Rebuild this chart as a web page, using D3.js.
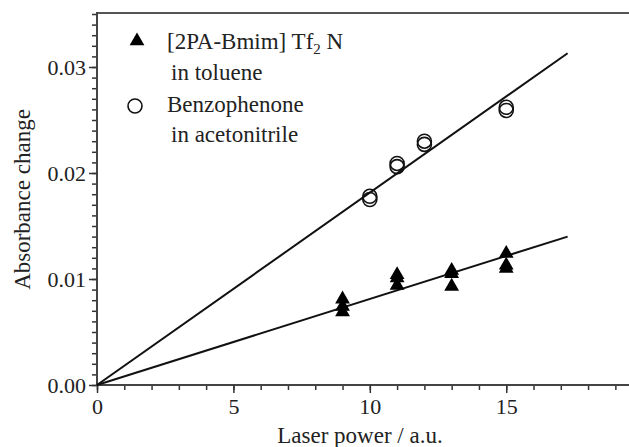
<!DOCTYPE html>
<html>
<head>
<meta charset="utf-8">
<script src="https://cdn.jsdelivr.net/npm/d3@7"></script>
<style>
  body { margin: 0; background: #fff; }
  svg text { font-family: "Times New Roman", "Liberation Serif", "DejaVu Serif", serif !important; fill: #222; }
</style>
</head>
<body>
<div id="chart"></div>
<script>
// data
var triX = [9, 9, 9, 11, 11, 11, 13, 13, 13, 15, 15, 15];
var triY = [0.0081, 0.0074, 0.0069, 0.0104, 0.0101, 0.0094, 0.0108, 0.0105, 0.0093, 0.0124, 0.0113, 0.0110];
var circX = [10, 10, 11, 11, 12, 12, 15, 15];
var circY = [0.0178, 0.0175, 0.0209, 0.0206, 0.0230, 0.0227, 0.0262, 0.0259];
var fitX = [0, 17.25];
var fitTri = [0, 0.0140];
var fitCirc = [0, 0.0313];
var xTicks = [0, 5, 10, 15];
var yTicks = [0, 0.01, 0.02, 0.03];

var width = 629, height = 447,
    margin = {top: 14, right: 0, bottom: 62, left: 97};

var x = d3.scaleLinear().domain([0, 19.5]).range([margin.left, width - margin.right]);
var y = d3.scaleLinear().domain([0, 0.035]).range([height - margin.bottom, margin.top]);

var svg = d3.select("#chart").append("svg")
  .attr("width", width)
  .attr("height", height);

// top frame line
svg.append("line")
  .attr("x1", x(0)).attr("x2", width)
  .attr("y1", margin.top - 1).attr("y2", margin.top - 1)
  .attr("stroke", "#555").attr("stroke-width", 2);

// minor ticks
var xAxisMinor = d3.axisBottom(x).tickValues(d3.range(0, 20, 1)).tickSize(5).tickFormat("");
var yAxisMinor = d3.axisLeft(y).tickValues(d3.range(0, 0.0351, 0.001)).tickSize(5).tickFormat("");

svg.append("g")
  .attr("transform", "translate(0," + y(0) + ")")
  .call(xAxisMinor)
  .call(function(g) { g.select(".domain").remove(); })
  .selectAll("line").attr("stroke", "#333").attr("stroke-width", 1.5);

svg.append("g")
  .attr("transform", "translate(" + x(0) + ",0)")
  .call(yAxisMinor)
  .call(function(g) { g.select(".domain").remove(); })
  .selectAll("line").attr("stroke", "#333").attr("stroke-width", 1.5);

// major axes
var xAxis = d3.axisBottom(x).tickValues(xTicks).tickSize(8).tickPadding(5).tickFormat(d3.format("d"));
var yAxis = d3.axisLeft(y).tickValues(yTicks).tickSize(8).tickPadding(3).tickFormat(d3.format(".2f"));

var gx = svg.append("g")
  .attr("transform", "translate(0," + y(0) + ")")
  .call(xAxis);
gx.select(".domain").attr("d", "M" + x(0) + ",0H" + width).attr("stroke", "#444").attr("stroke-width", 2);
gx.selectAll("line").attr("stroke", "#333").attr("stroke-width", 1.5);
gx.selectAll("text").attr("font-size", 22);

var gy = svg.append("g")
  .attr("transform", "translate(" + x(0) + ",0)")
  .call(yAxis);
gy.select(".domain").attr("d", "M0," + y(0) + "V" + (margin.top - 2)).attr("stroke", "#444").attr("stroke-width", 2);
gy.selectAll("line").attr("stroke", "#333").attr("stroke-width", 1.5);
gy.selectAll("text").attr("font-size", 22);

// axis titles
svg.append("text")
  .attr("x", (x(0) + width) / 2 - 3)
  .attr("y", height - 4)
  .attr("text-anchor", "middle")
  .attr("font-size", 23)
  .text("Laser power / a.u.");

svg.append("text")
  .attr("transform", "translate(30," + ((y(0) + y(0.035)) / 2) + ") rotate(-90)")
  .attr("text-anchor", "middle")
  .attr("font-size", 23)
  .text("Absorbance change");

// fit lines
var line = d3.line().x(function(d) { return x(d[0]); }).y(function(d) { return y(d[1]); });

[fitCirc, fitTri].forEach(function(f) {
  svg.append("path")
    .attr("d", line(fitX.map(function(v, i) { return [v, f[i]]; })))
    .attr("fill", "none")
    .attr("stroke", "#111")
    .attr("stroke-width", 2);
});

// markers
var tri = d3.symbol().type(d3.symbolTriangle).size(95);

svg.selectAll(null)
  .data(triX.map(function(v, i) { return [v, triY[i]]; }))
  .enter().append("path")
  .attr("d", tri)
  .attr("transform", function(d) { return "translate(" + x(d[0]) + "," + y(d[1]) + ")"; })
  .attr("fill", "#000");

svg.selectAll(null)
  .data(circX.map(function(v, i) { return [v, circY[i]]; }))
  .enter().append("circle")
  .attr("cx", function(d) { return x(d[0]); })
  .attr("cy", function(d) { return y(d[1]); })
  .attr("r", 7)
  .attr("fill", "none")
  .attr("stroke", "#111")
  .attr("stroke-width", 1.6);

// legend
var lg = svg.append("g");
lg.append("path")
  .attr("d", tri)
  .attr("transform", "translate(137,41)")
  .attr("fill", "#000");

var t1 = lg.append("text").attr("x", 167).attr("y", 49).attr("font-size", 23);
t1.append("tspan").text("[2PA-Bmim] Tf");
t1.append("tspan").attr("font-size", 15).attr("dy", 5).text("2");
t1.append("tspan").attr("dy", -5).text(" N");

lg.append("text").attr("x", 171).attr("y", 80).attr("font-size", 23).text("in toluene");

lg.append("circle")
  .attr("cx", 135).attr("cy", 106).attr("r", 7)
  .attr("fill", "none").attr("stroke", "#111").attr("stroke-width", 1.6);

lg.append("text").attr("x", 167).attr("y", 112).attr("font-size", 23).text("Benzophenone");
lg.append("text").attr("x", 171).attr("y", 142).attr("font-size", 23).text("in acetonitrile");
</script>
</body>
</html>
